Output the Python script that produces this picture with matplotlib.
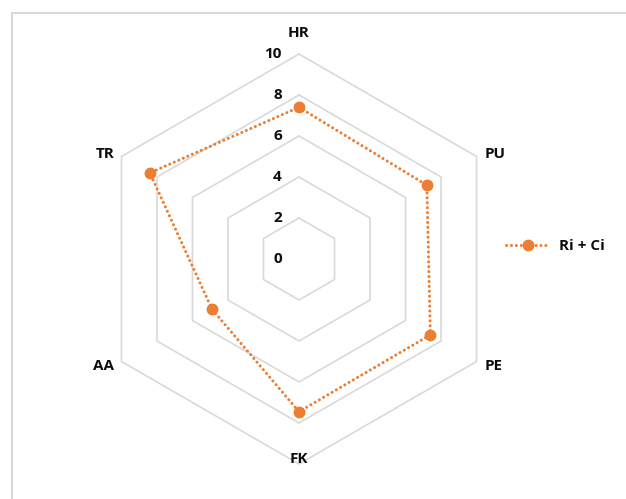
import numpy as np
import matplotlib
matplotlib.use("Agg")
import matplotlib.pyplot as plt
from matplotlib.lines import Line2D

categories = ["HR", "PU", "PE", "FK", "AA", "TR"]
values = [7.4, 7.2, 7.4, 7.45, 4.9, 8.4]
series_name = "Ri + Ci"
rings = [2, 4, 6, 8, 10]
tick_labels = ["0", "2", "4", "6", "8", "10"]

W, H = 626, 499
CX, CY, UNIT = 299, 259, 20.5
fig = plt.figure(figsize=(W / 100, H / 100), dpi=100)
ax = fig.add_axes([0, 0, 1, 1])
ax.set_xlim(-CX / UNIT, (W - CX) / UNIT)
ax.set_ylim(-(H - CY) / UNIT, CY / UNIT)
ax.set_aspect("auto")
ax.axis("off")

plt.rcParams["font.family"] = ["Open Sans", "DejaVu Sans"]
FS = 11
TXT = "#0d0d0d"

n = len(categories)
ang = np.pi / 2 - np.arange(n) * 2 * np.pi / n
ang_c = np.append(ang, ang[0])

grid_col = "#d9d9d9"
for r in rings:
    ax.plot(r * np.cos(ang_c), r * np.sin(ang_c), color=grid_col, lw=1.2, zorder=1)

vals = np.array(values + [values[0]])
orange = "#ED7D31"
ax.plot(vals * np.cos(ang_c), vals * np.sin(ang_c), color=orange, lw=2.2,
        linestyle=(0, (0.01, 1.6)), dash_capstyle="round", zorder=3)
ax.plot(vals[:-1] * np.cos(ang), vals[:-1] * np.sin(ang), "o", color=orange,
        ms=7.5, zorder=4, linestyle="none")

# tick labels
for i, t in enumerate(tick_labels):
    ax.text(-17 / UNIT, i * 2, t, ha="right", va="center", fontsize=FS,
            fontweight="bold", color=TXT)

# category labels
lab_pos = {
    "HR": (0, 226 / UNIT, "center"),
    "PU": (186 / UNIT, 105 / UNIT, "left"),
    "PE": (186 / UNIT, -107 / UNIT, "left"),
    "FK": (0, -200 / UNIT, "center"),
    "AA": (-185 / UNIT, -107 / UNIT, "right"),
    "TR": (-185 / UNIT, 105 / UNIT, "right"),
}
for c in categories:
    x, y, ha = lab_pos[c]
    ax.text(x, y, c, ha=ha, va="center", fontsize=FS, fontweight="bold",
            color=TXT)

handle = Line2D([], [], color=orange, lw=2.2, linestyle=(0, (0.01, 1.6)),
                dash_capstyle="round", marker="o", ms=7.5)
leg = ax.legend([handle], [series_name], loc="center left",
                bbox_to_anchor=(506 / W, 1 - 246 / H), frameon=False,
                borderpad=0, borderaxespad=0, handlelength=2.9,
                handletextpad=0.55, prop={"weight": "bold", "size": FS})
for t in leg.get_texts():
    t.set_color(TXT)

# chart border (top and left visible)
fig.add_artist(Line2D([11.5 / W, 11.5 / W], [0, 1 - 13 / H], color="#d9d9d9",
                      lw=1.5, transform=fig.transFigure))
fig.add_artist(Line2D([11.5 / W, 1], [1 - 13 / H, 1 - 13 / H], color="#d9d9d9",
                      lw=1.5, transform=fig.transFigure))

fig.savefig("out.png", dpi=100)
